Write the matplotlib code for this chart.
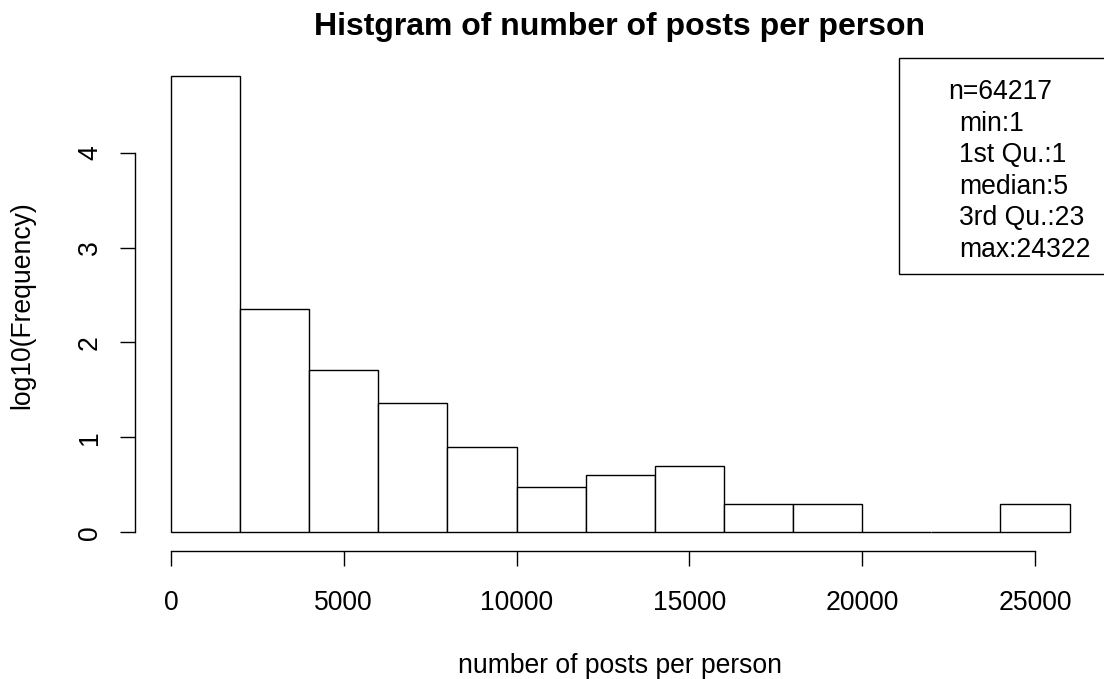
import numpy as np
import matplotlib
matplotlib.use("Agg")
import matplotlib.pyplot as plt
from matplotlib.patches import Rectangle

# ---- data ----
breaks = [0, 2000, 4000, 6000, 8000, 10000, 12000, 14000, 16000, 18000, 20000, 22000, 24000, 26000]
log_freq = [4.805, 2.350, 1.708, 1.362, 0.903, 0.477, 0.602, 0.699, 0.301, 0.301, 0.0, 0.0, 0.301]
x_ticks = [0, 5000, 10000, 15000, 20000, 25000]
y_ticks = [0, 1, 2, 3, 4]
legend_lines = ["n=64217", "min:1", "1st Qu.:1", "median:5", "3rd Qu.:23", "max:24322"]
title = "Histgram of number of posts per person"
xlabel = "number of posts per person"
ylabel = "log10(Frequency)"

plt.rcParams["font.family"] = ["Liberation Sans", "DejaVu Sans"]

W, H = 1104, 679
fig = plt.figure(figsize=(W / 100, H / 100), dpi=100)


def fx(px):
    return px / W


def fy(py):
    return 1 - py / H


ax = fig.add_axes([fx(135), fy(551), fx(1105.5) - fx(135), fy(58) - fy(551)])
ax.set_xlim(-1040, 27040)
ax.set_ylim(-0.195, 4.995)

widths = np.diff(breaks)
ax.bar(breaks[:-1], log_freq, width=widths, align="edge",
       facecolor="white", edgecolor="black", linewidth=1.0)

for s in ["top", "right"]:
    ax.spines[s].set_visible(False)
ax.spines["left"].set_bounds(y_ticks[0], y_ticks[-1])
ax.spines["bottom"].set_bounds(x_ticks[0], x_ticks[-1])
ax.spines["left"].set_linewidth(1.0)
ax.spines["bottom"].set_linewidth(1.0)

fs = 19.1
ax.set_xticks(x_ticks)
ax.set_xticklabels([str(v) for v in x_ticks], fontsize=fs)
ax.set_yticks(y_ticks)
ax.set_yticklabels([str(v) for v in y_ticks], fontsize=fs, rotation=90, va="center")
ax.tick_params(axis="both", direction="out", length=11, width=1.0, color="black")
ax.tick_params(axis="x", pad=17)
ax.tick_params(axis="y", pad=12)

fig.text(fx(620), fy(27), title, fontsize=23, fontweight="bold",
         ha="center", va="center")
fig.text(fx(620), fy(666), xlabel, fontsize=fs, ha="center", va="center")
fig.text(fx(22), fy(305), ylabel, fontsize=fs, ha="center", va="center", rotation=90)

# legend box (R legend "topright")
rect = Rectangle((fx(899), fy(274)), fx(1105.5) - fx(899), fy(58) - fy(274),
                 transform=fig.transFigure, facecolor="white", edgecolor="black",
                 linewidth=1.0, clip_on=False)
fig.add_artist(rect)
for i, line in enumerate(legend_lines):
    xpos = 948 if i == 0 else 959
    fig.text(fx(xpos), fy(92 + i * 31.6), line, fontsize=fs, ha="left", va="center")

fig.savefig("out.png", dpi=100)
